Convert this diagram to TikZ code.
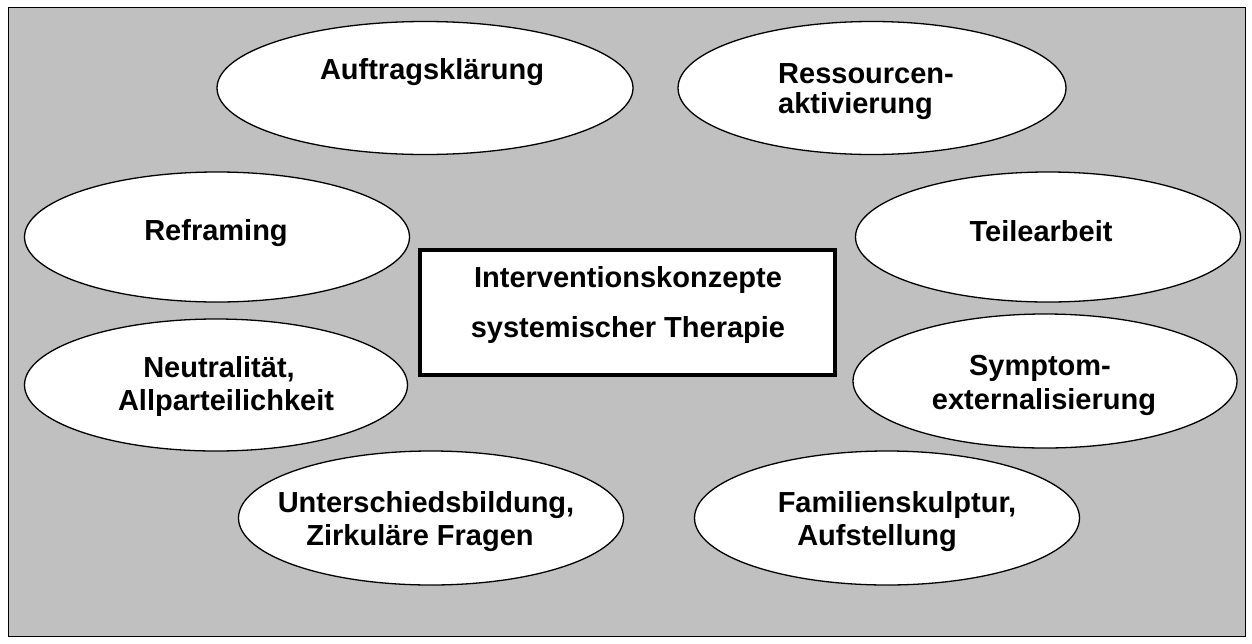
\documentclass[tikz,border=0pt]{standalone}
\usepackage{fontspec}
\setmainfont{Liberation Sans}
\usetikzlibrary{shapes.geometric}
\definecolor{bg}{RGB}{192,192,192}
\tikzset{
  oval/.style={ellipse, draw=black, line width=1.3pt, fill=white, inner sep=0pt},
  lbl/.style={font=\fontsize{29}{33}\selectfont\bfseries, inner sep=0pt, anchor=base},
  lblw/.style={lbl, anchor=base west},
  framebox/.style={draw=black, line width=4pt, fill=white, inner sep=0pt},
}
\begin{document}
\begin{tikzpicture}[x=1pt,y=-1pt]
\useasboundingbox (0,0) rectangle (1252,643);
\node[draw=black, fill=bg, line width=1.3pt, minimum width=1237pt, minimum height=629pt,
      inner sep=0pt, anchor=north west] (frame) at (8,7) {};

% ellipses
\node[oval, minimum width=416pt, minimum height=133pt] (auf) at (425,88) {};
\node[oval, minimum width=388pt, minimum height=133pt] (res) at (872,88) {};
\node[oval, minimum width=385pt, minimum height=130pt] (ref) at (217,237) {};
\node[oval, minimum width=385pt, minimum height=130pt] (teil) at (1048,237) {};
\node[oval, minimum width=383pt, minimum height=132pt] (neu) at (216,385) {};
\node[oval, minimum width=384pt, minimum height=134pt] (sym) at (1045,381) {};
\node[oval, minimum width=385pt, minimum height=134pt] (unt) at (431,518) {};
\node[oval, minimum width=385pt, minimum height=134pt] (fam) at (887,518) {};

% centre box
\node[framebox, minimum width=415pt, minimum height=125pt] (box) at (627.5,312.5) {};

% labels
\node[lbl] (aufT) at (432,79) {Auftragsklärung};
\node[lblw] (resT1) at (778,83) {Ressourcen-};
\node[lblw] (resT2) at (778,113) {aktivierung};
\node[lbl] (refT) at (216,240) {Reframing};
\node[lbl] (teilT) at (1041,241) {Teilearbeit};
\node[lbl] (neuT1) at (219,377) {Neutralität,};
\node[lbl] (neuT2) at (226,410) {Allparteilichkeit};
\node[lbl] (symT1) at (1040,375) {Symptom-};
\node[lbl] (symT2) at (1044,409) {externalisierung};
\node[lbl] (untT1) at (426,512) {Unterschiedsbildung,};
\node[lbl] (untT2) at (420,545) {Zirkuläre Fragen};
\node[lbl] (famT1) at (897,512) {Familienskulptur,};
\node[lbl] (famT2) at (877,545) {Aufstellung};
\node[lbl] (boxT1) at (628,287) {Interventionskonzepte};
\node[lbl] (boxT2) at (628,337) {systemischer Therapie};
\end{tikzpicture}
\end{document}
